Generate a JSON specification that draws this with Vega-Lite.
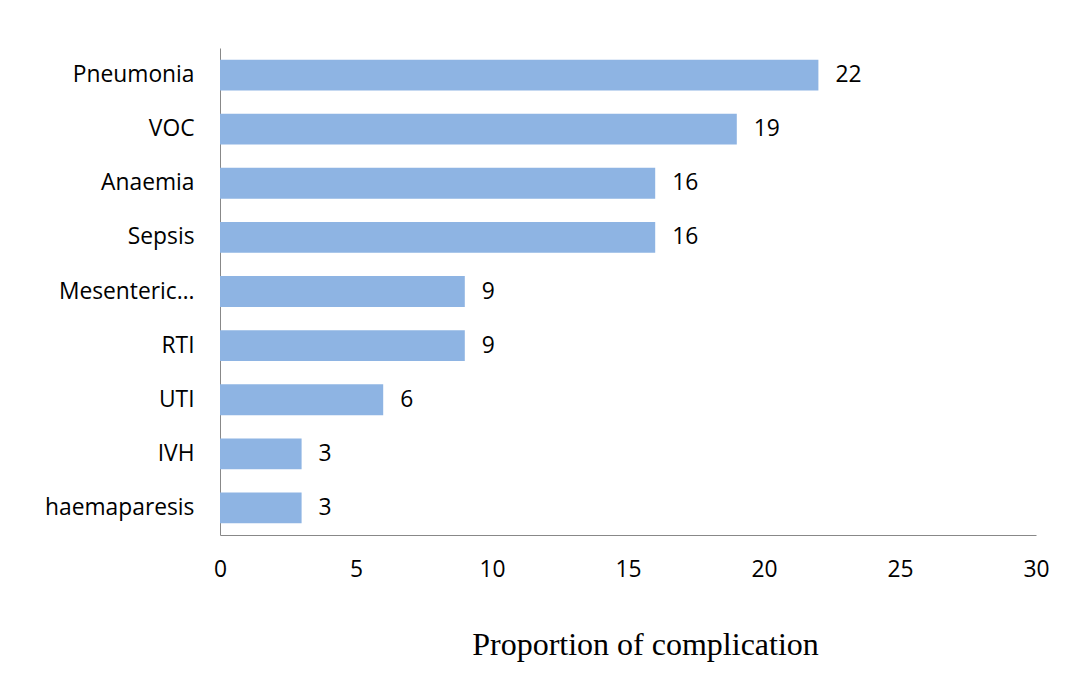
{
  "$schema": "https://vega.github.io/schema/vega-lite/v6.json",
  "width": 816,
  "height": 487,
  "autosize": {"type": "none"},
  "padding": {"left": 220, "top": 48, "right": 34, "bottom": 158},
  "background": "white",
  "config": {"view": {"stroke": null}, "font": "Open Sans"},
  "data": {
    "values": [
      {"complication": "Pneumonia", "proportion": 22},
      {"complication": "VOC", "proportion": 19},
      {"complication": "Anaemia", "proportion": 16},
      {"complication": "Sepsis", "proportion": 16},
      {"complication": "Mesenteric…", "proportion": 9},
      {"complication": "RTI", "proportion": 9},
      {"complication": "UTI", "proportion": 6},
      {"complication": "IVH", "proportion": 3},
      {"complication": "haemaparesis", "proportion": 3}
    ]
  },
  "encoding": {
    "y": {
      "field": "complication",
      "type": "nominal",
      "sort": null,
      "scale": {"paddingInner": 0.43, "paddingOuter": 0.215},
      "axis": {
        "title": null,
        "ticks": false,
        "domainColor": "#888888",
        "labelFont": "Open Sans",
        "labelFontSize": 22.8,
        "labelColor": "black",
        "labelPadding": 26
      }
    },
    "x": {
      "field": "proportion",
      "type": "quantitative",
      "scale": {"domain": [0, 30], "nice": false},
      "axis": {
        "values": [0, 5, 10, 15, 20, 25, 30],
        "grid": false,
        "ticks": false,
        "labelFlush": false,
        "domainColor": "#888888",
        "labelFont": "Open Sans",
        "labelFontSize": 22.8,
        "labelColor": "black",
        "labelPadding": 23,
        "title": "Proportion of complication",
        "titleFont": "Liberation Serif",
        "titleFontSize": 32,
        "titleFontWeight": "normal",
        "titleColor": "black",
        "titleAlign": "center",
        "titleBaseline": "alphabetic",
        "titleX": 425,
        "titleY": 119
      }
    }
  },
  "layer": [
    {"mark": {"type": "bar", "color": "#8EB4E3"}},
    {
      "mark": {"type": "text", "align": "left", "baseline": "middle", "dx": 17, "font": "Open Sans", "fontSize": 22.8, "color": "black"},
      "encoding": {"text": {"field": "proportion", "type": "quantitative"}}
    }
  ]
}
